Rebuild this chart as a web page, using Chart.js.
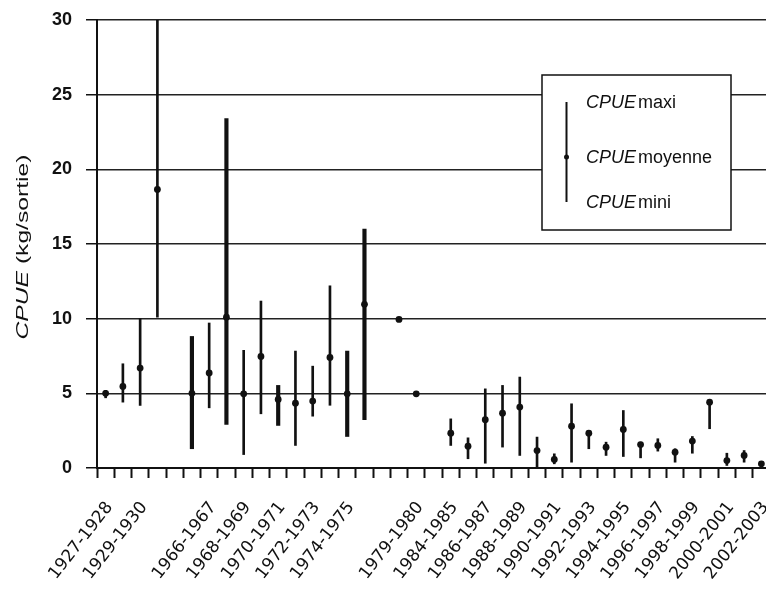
<!DOCTYPE html>
<html>
<head>
<meta charset="utf-8">
<script src="https://cdn.jsdelivr.net/npm/chart.js@4.4.1/dist/chart.umd.min.js"></script>
<style>
  html, body { margin: 0; padding: 0; background: #fff; overflow: hidden; }
  #wrap { width: 774px; height: 596px; }
</style>
</head>
<body>
<div id="wrap"><canvas id="cpueChart" width="774" height="596"></canvas></div>
<script>
// seasons ('' = gap in the series)
const seasons = [
    "1927-1928", "1928-1929", "1929-1930", "1930-1931", "",
    "1965-1966", "1966-1967", "1967-1968", "1968-1969", "1969-1970",
    "1970-1971", "1971-1972", "1972-1973", "1973-1974", "1974-1975",
    "1975-1976", "", "1978-1979", "1979-1980", "",
    "1984-1985", "1985-1986", "1986-1987", "1987-1988", "1988-1989",
    "1989-1990", "1990-1991", "1991-1992", "1992-1993", "1993-1994",
    "1994-1995", "1995-1996", "1996-1997", "1997-1998", "1998-1999",
    "1999-2000", "2000-2001", "2001-2002", "2002-2003"
];

const cpueMoyenne = [
    5.0, 5.46, 6.69, 18.65, null,
    5.0, 6.36, 10.1, 4.97, 7.47,
    4.59, 4.34, 4.48, 7.4, 4.97,
    10.96, null, 9.95, 4.97, null,
    2.33, 1.46, 3.23, 3.67, 4.08,
    1.17, 0.57, 2.8, 2.33, 1.39,
    2.58, 1.57, 1.51, 1.06, 1.8,
    4.41, 0.5, 0.84, 0.28
];

const cpueMaxi = [
    5.2, 6.98, 10.0, 30, null,
    8.81, 9.71, 23.4, 7.88, 11.18,
    5.53, 7.83, 6.82, 12.2, 7.83,
    16.0, null, 9.95, 4.97, null,
    3.29, 2.02, 5.3, 5.53, 6.09,
    2.07, 0.95, 4.3, 2.51, 1.73,
    3.85, 1.73, 1.96, 1.29, 2.11,
    4.52, 0.99, 1.17, 0.28
];

const cpueMini = [
    4.7, 4.41, 4.19, 10.1, null,
    1.29, 4.03, 2.92, 0.9, 3.63,
    2.85, 1.51, 3.47, 4.2, 2.11,
    3.23, null, 9.95, 4.97, null,
    1.51, 0.62, 0.32, 1.4, 0.84,
    0.05, 0.28, 0.39, 1.29, 0.84,
    0.77, 0.68, 1.13, 0.39, 0.99,
    2.63, 0.17, 0.39, 0.28
];

const yTicks = [0, 5, 10, 15, 20, 25, 30];

// bars drawn with a heavier stroke in the original figure
const thickBars = [5, 7, 10, 14, 15];

const ink = '#111';

const ranges = cpueMini.map((lo, i) => (lo === null ? null : [lo, cpueMaxi[i]]));
const thinRanges = ranges.map((r, i) => (thickBars.includes(i) ? null : r));
const thickRanges = ranges.map((r, i) => (thickBars.includes(i) ? r : null));

function drawMixed(ctx, x, y, parts) {
    // parts: [text, italic]
    let cx = x;
    parts.forEach(([txt, italic]) => {
        ctx.font = (italic ? 'italic ' : '') + '18px "Liberation Sans"';
        ctx.fillText(txt, cx, y);
        cx += ctx.measureText(txt).width + 2;
    });
}

const extras = {
    id: 'extras',
    afterDraw(chart) {
        const ctx = chart.ctx;
        const area = chart.chartArea;

        // y axis title, CPUE in italics
        ctx.save();
        ctx.fillStyle = ink;
        ctx.textBaseline = 'middle';
        ctx.translate(23, 247);
        ctx.rotate(-Math.PI / 2);
        ctx.scale(1.45, 1);
        ctx.font = 'italic 17px "Liberation Sans"';
        const w1 = ctx.measureText('CPUE').width;
        ctx.font = '17px "Liberation Sans"';
        const w2 = ctx.measureText(' (kg/sortie)').width;
        let sx = -(w1 + w2) / 2;
        ctx.font = 'italic 17px "Liberation Sans"';
        ctx.fillText('CPUE', sx, 0);
        ctx.font = '17px "Liberation Sans"';
        ctx.fillText(' (kg/sortie)', sx + w1, 0);
        ctx.restore();

        // legend box
        const bx = area.left + 445, by = area.top + 55, bw = 189, bh = 155;
        ctx.save();
        ctx.fillStyle = '#fff';
        ctx.fillRect(bx, by, bw, bh);
        ctx.strokeStyle = ink;
        ctx.lineWidth = 1.5;
        ctx.strokeRect(bx, by, bw, bh);
        ctx.beginPath();
        ctx.lineWidth = 2;
        ctx.moveTo(bx + 24.5, by + 27);
        ctx.lineTo(bx + 24.5, by + 127);
        ctx.stroke();
        ctx.beginPath();
        ctx.fillStyle = ink;
        ctx.arc(bx + 24.5, by + 82, 2.5, 0, Math.PI * 2);
        ctx.fill();
        ctx.textBaseline = 'middle';
        drawMixed(ctx, bx + 44, by + 28, [['CPUE', true], ['maxi', false]]);
        drawMixed(ctx, bx + 44, by + 83, [['CPUE', true], ['moyenne', false]]);
        drawMixed(ctx, bx + 44, by + 128, [['CPUE', true], ['mini', false]]);
        ctx.restore();
    }
};

new Chart(document.getElementById('cpueChart'), {
    data: {
        labels: seasons,
        datasets: [
            {
                type: 'line',
                label: 'CPUE moyenne',
                data: cpueMoyenne,
                showLine: false,
                pointRadius: 3.4,
                pointBackgroundColor: ink,
                pointBorderColor: ink,
                pointBorderWidth: 0,
                order: 0
            },
            {
                type: 'bar',
                label: 'CPUE mini-maxi',
                data: thinRanges,
                backgroundColor: ink,
                borderWidth: 0,
                barThickness: 2,
                grouped: false,
                order: 1
            },
            {
                type: 'bar',
                label: 'CPUE mini-maxi (épais)',
                data: thickRanges,
                backgroundColor: ink,
                borderWidth: 0,
                barThickness: 3.5,
                grouped: false,
                order: 1
            }
        ]
    },
    options: {
        responsive: false,
        animation: false,
        layout: { padding: { top: 20, right: 1, left: 0, bottom: 0 } },
        plugins: {
            legend: { display: false },
            tooltip: { enabled: false }
        },
        scales: {
            x: {
                type: 'category',
                offset: true,
                afterFit(scale) {
                    scale.height = 128;
                    scale.paddingLeft = 0;
                    scale.paddingRight = 0;
                },
                grid: {
                    offset: true,
                    drawOnChartArea: false,
                    tickLength: 10,
                    tickColor: ink,
                    tickWidth: 2
                },
                border: { color: ink, width: 2 },
                ticks: {
                    autoSkip: false,
                    minRotation: 52,
                    maxRotation: 52,
                    padding: 20,
                    labelOffset: 4,
                    color: ink,
                    font: { family: 'DejaVu Sans', size: 17 },
                    callback: function(value, index) {
                        return index % 2 === 0 ? seasons[index] : '';
                    }
                }
            },
            y: {
                min: 0,
                max: 30,
                afterFit(scale) {
                    scale.width = 97;
                    scale.paddingTop = 0;
                    scale.paddingBottom = 0;
                },
                afterBuildTicks(scale) {
                    scale.ticks = yTicks.map(v => ({ value: v }));
                },
                grid: {
                    color: '#222',
                    lineWidth: 1.5,
                    tickLength: 11,
                    tickColor: ink
                },
                border: { color: ink, width: 2 },
                ticks: {
                    padding: 14,
                    color: ink,
                    font: { family: 'Liberation Sans', size: 18, weight: 'bold' }
                }
            }
        }
    },
    plugins: [extras]
});
</script>
</body>
</html>
